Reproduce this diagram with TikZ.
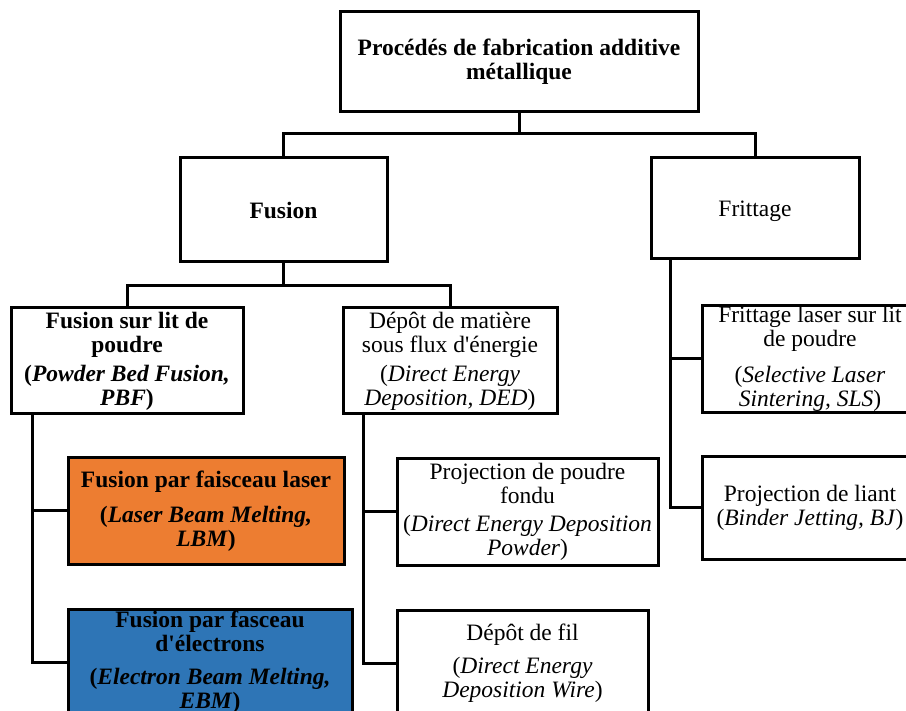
\documentclass[tikz,border=0pt]{standalone}
\usepackage{fontspec}
\setmainfont{Liberation Serif}[Ligatures=TeXOff]
\definecolor{lbmorange}{HTML}{ED7D31}
\definecolor{ebmblue}{HTML}{2E75B6}
\tikzset{
  box/.style={draw=black, line width=3pt, fill=white, inner sep=0pt, align=center,
    font=\fontsize{23.5}{24}\selectfont},
  conn/.style={draw=black, line width=3pt, line join=miter},
}
\begin{document}
\begin{tikzpicture}[x=1pt,y=-1pt]
\clip (0,0) rectangle (906,711);
\fill[white] (0,0) rectangle (906,711);
\coordinate (j1) at (519,134);
\coordinate (j2) at (283.5,286);
\node[box, minimum width=358pt, minimum height=100pt] (top) at (519,62)
  {\bfseries Procédés de fabrication additive\\\bfseries métallique};
\node[box, minimum width=207pt, minimum height=104pt] (fusion) at (283.5,210)
  {\bfseries Fusion};
\node[box, minimum width=208pt, minimum height=101pt, text depth=0pt] (frittage) at (755,208.5)
  {Frittage};
\node[box, minimum width=232pt, minimum height=106pt] (pbf) at (127,361)
  {\bfseries Fusion sur lit de\\\bfseries poudre\\[5pt]\bfseries (\textit{Powder Bed Fusion,}\\\bfseries \textit{PBF})};
\node[box, minimum width=214pt, minimum height=106pt] (ded) at (450,361)
  {Dépôt de matière\\sous flux d'énergie\\[5pt](\textit{Direct Energy}\\\textit{Deposition, DED})};
\node[box, minimum width=216pt, minimum height=107pt] (sls) at (810,359)
  {Frittage laser sur lit\\de poudre\\[12pt](\textit{Selective Laser}\\\textit{Sintering, SLS})};
\node[box, minimum width=216pt, minimum height=102pt] (bj) at (810,508)
  {Projection de liant\\(\textit{Binder Jetting, BJ})};
\node[box, fill=lbmorange, minimum width=276pt, minimum height=106pt] (lbm) at (206,511)
  {\bfseries Fusion par faisceau laser\\[11pt]\bfseries (\textit{Laser Beam Melting,}\\\bfseries \textit{LBM})};
\node[box, fill=ebmblue, minimum width=284pt, minimum height=106pt] (ebm) at (210,662)
  {\bfseries Fusion par fasceau\\\bfseries d'électrons\\[9pt]\bfseries (\textit{Electron Beam Melting,}\\\bfseries \textit{EBM})};
\node[box, minimum width=261pt, minimum height=106pt] (proj) at (527.5,512)
  {Projection de poudre\\fondu\\[4pt](\textit{Direct Energy Deposition}\\\textit{Powder})};
\node[box, minimum width=251pt, minimum height=105pt] (fil) at (522.5,663)
  {Dépôt de fil\\[9pt](\textit{Direct Energy}\\\textit{Deposition Wire})};
\draw[conn] (top.south) -- (j1);
\draw[conn] (fusion.north) |- (j1) -| (frittage.north);
\draw[conn] (fusion.south) -- (j2);
\draw[conn] (pbf.north) |- (j2) -| (ded.north);
\draw[conn] ([xshift=23pt]pbf.south west) |- (lbm.west);
\draw[conn] ([xshift=23pt]pbf.south west) |- (ebm.west);
\draw[conn] ([xshift=22pt]ded.south west) |- (proj.west);
\draw[conn] ([xshift=22pt]ded.south west) |- (fil.west);
\draw[conn] ([xshift=21pt]frittage.south west) |- (sls.west);
\draw[conn] ([xshift=21pt]frittage.south west) |- (bj.west);
\end{tikzpicture}
\end{document}
